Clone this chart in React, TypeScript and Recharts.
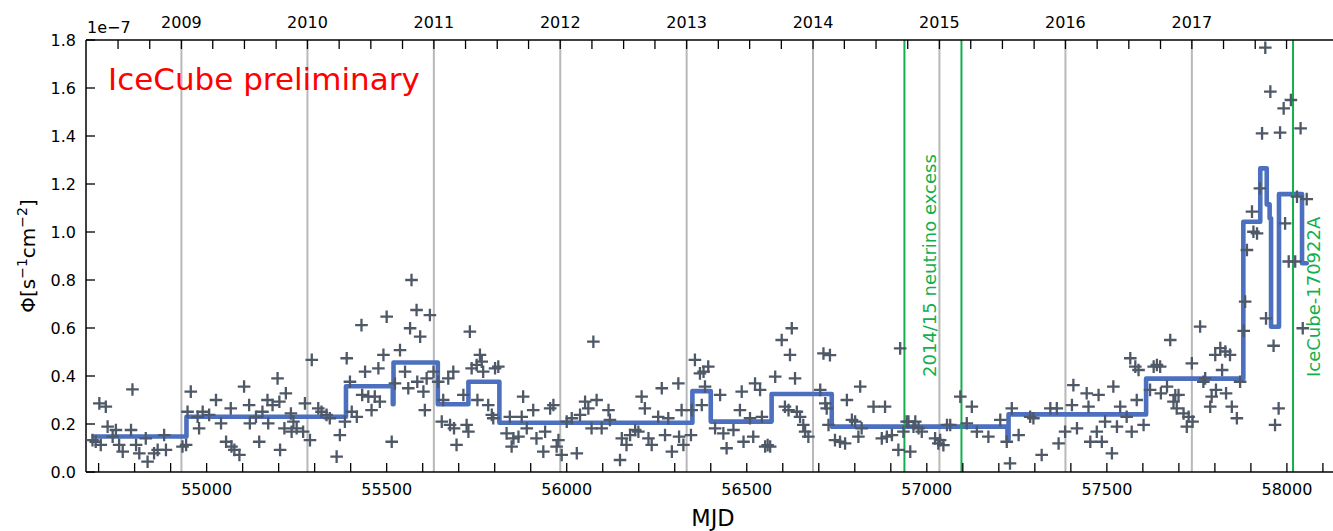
import React from 'react';
import { ComposedChart, Line, Scatter, XAxis, YAxis, ReferenceLine } from 'recharts';

// ---------- data ----------
const scatterMjd = [
  54683, 54692, 54702, 54706, 54720, 54725, 54739, 54748, 54757, 54767, 54790, 54794, 54804, 54813, 54831, 54836, 54854, 54864, 54882, 54887,
  54933, 54943, 54947, 54956, 54975, 54979, 54989, 55007, 55026, 55040, 55054, 55067, 55069, 55077, 55091, 55104, 55118, 55120, 55137, 55146,
  55155, 55169, 55171, 55183, 55197, 55202, 55204, 55216, 55220, 55234, 55236,
  55241, 55250, 55268, 55273, 55287, 55292, 55310, 55319, 55333, 55342, 55361, 55370, 55384, 55389, 55398, 55403, 55417, 55430, 55432, 55440,
  55449, 55458, 55467, 55477, 55481, 55491, 55500, 55514, 55523, 55537, 55551, 55560, 55565, 55569, 55583, 55585, 55593, 55602, 55606, 55611,
  55620, 55630, 55643, 55653, 55657, 55671, 55676, 55685, 55687, 55694, 55713, 55722, 55727, 55731, 55736, 55750, 55752, 55759, 55764, 55768,
  55782, 55792, 55796, 55801,
  55810, 55833, 55842, 55847, 55852, 55866, 55875, 55879, 55889, 55907, 55916, 55935, 55940, 55954, 55963, 55972, 55977, 55986, 56000, 56014,
  56028, 56037, 56051, 56060, 56069, 56074, 56083, 56097, 56116, 56120, 56148, 56153, 56166, 56176, 56190, 56199, 56208, 56217, 56227, 56236,
  56254, 56264, 56273, 56282, 56292, 56310, 56312, 56319, 56324, 56345, 56347, 56356,
  56370, 56375, 56380, 56384, 56393, 56412, 56426, 56435, 56444, 56463, 56481, 56486, 56491, 56509, 56518, 56523, 56537, 56542, 56551, 56558,
  56565, 56579, 56597, 56606, 56616, 56620, 56625, 56634, 56639, 56648, 56657, 56662, 56671, 56704, 56713, 56718, 56722, 56727, 56731, 56745,
  56759, 56773, 56778, 56792, 56801, 56810, 56815, 56819, 56852, 56875, 56884, 56889, 56903, 56921, 56926, 56935, 56944,
  56949, 56954, 56963, 56968, 56977, 56986, 57023, 57032, 57037, 57046, 57056, 57065, 57093, 57111, 57125, 57139, 57171, 57204, 57222, 57231,
  57236, 57255, 57287, 57296, 57319, 57343, 57361, 57366, 57384, 57403, 57407, 57417, 57444, 57449, 57454, 57472, 57477, 57486, 57495, 57514,
  57518, 57528, 57537,
  57555, 57565, 57569, 57579, 57583, 57588, 57602, 57620, 57630, 57639, 57648, 57650, 57667, 57676, 57685, 57690, 57694, 57699, 57713, 57722,
  57727, 57736, 57738, 57759, 57768, 57773, 57787, 57791, 57801, 57803, 57815, 57820, 57829, 57831, 57842, 57847, 57861, 57870,
  57880, 57884, 57889, 57903, 57907, 57917, 57925, 57931, 57940, 57942, 57954, 57963, 57967, 57977, 57981, 57991, 57995, 58005, 58011, 58023,
  58028, 58038, 58044, 58055,
];
const scatterFlux = [
  0.133, 0.126, 0.286, 0.113, 0.272, 0.189, 0.147, 0.175, 0.113, 0.085, 0.175, 0.344, 0.113, 0.078, 0.140, 0.043, 0.078, 0.092, 0.154, 0.092,
  0.106, 0.113, 0.251, 0.335, 0.230, 0.182, 0.251, 0.238, 0.300, 0.203, 0.126, 0.265, 0.106, 0.092, 0.071, 0.356, 0.279, 0.203, 0.230, 0.126,
  0.251, 0.300, 0.203, 0.279, 0.390, 0.293, 0.092, 0.182, 0.328, 0.244, 0.168,
  0.210, 0.182, 0.168, 0.286, 0.133, 0.467, 0.265, 0.251, 0.238, 0.224, 0.064, 0.154, 0.210, 0.474, 0.376, 0.251, 0.230, 0.612, 0.321, 0.418,
  0.314, 0.258, 0.314, 0.432, 0.293, 0.488, 0.647, 0.126, 0.369, 0.508, 0.418, 0.349, 0.599, 0.800, 0.675, 0.376, 0.564, 0.335, 0.258, 0.390,
  0.654, 0.418, 0.376, 0.210, 0.300, 0.390, 0.196, 0.418, 0.182, 0.113, 0.321, 0.196, 0.168, 0.585, 0.432, 0.446, 0.300, 0.488, 0.460, 0.418,
  0.279, 0.238, 0.224, 0.432,
  0.439, 0.161, 0.230, 0.106, 0.140, 0.147, 0.230, 0.314, 0.182, 0.258, 0.140, 0.085, 0.168, 0.265, 0.279, 0.106, 0.133, 0.071, 0.210, 0.224,
  0.078, 0.238, 0.293, 0.265, 0.182, 0.543, 0.300, 0.182, 0.258, 0.217, 0.050, 0.140, 0.113, 0.154, 0.175, 0.168, 0.314, 0.265, 0.140, 0.113,
  0.230, 0.349, 0.154, 0.224, 0.085, 0.369, 0.147, 0.258, 0.113, 0.154, 0.258, 0.467,
  0.411, 0.279, 0.418, 0.356, 0.439, 0.182, 0.321, 0.161, 0.099, 0.175, 0.258, 0.335, 0.126, 0.224, 0.147, 0.369, 0.342, 0.230, 0.106, 0.112,
  0.106, 0.397, 0.550, 0.272, 0.258, 0.488, 0.599, 0.390, 0.251, 0.230, 0.196, 0.168, 0.147, 0.342, 0.494, 0.286, 0.265, 0.196, 0.487, 0.133,
  0.126, 0.119, 0.300, 0.217, 0.210, 0.147, 0.356, 0.182, 0.272, 0.140, 0.272, 0.147, 0.154, 0.092, 0.515, 0.168, 0.210,
  0.210, 0.085, 0.189, 0.210, 0.182, 0.168, 0.140, 0.119, 0.133, 0.112, 0.196, 0.196, 0.314, 0.203, 0.272, 0.168, 0.147, 0.217, 0.126, 0.036,
  0.265, 0.154, 0.230, 0.224, 0.071, 0.265, 0.265, 0.119, 0.168, 0.279, 0.362, 0.182, 0.328, 0.272, 0.126, 0.168, 0.321, 0.126, 0.210, 0.078,
  0.356, 0.189, 0.272,
  0.230, 0.474, 0.168, 0.439, 0.300, 0.425, 0.196, 0.342, 0.439, 0.446, 0.439, 0.328, 0.356, 0.550, 0.293, 0.320, 0.265, 0.321, 0.244, 0.189,
  0.230, 0.453, 0.210, 0.606, 0.376, 0.390, 0.272, 0.314, 0.488, 0.342, 0.516, 0.425, 0.502, 0.328, 0.488, 0.272, 0.224, 0.376,
  0.588, 0.710, 0.925, 1.085, 1.001, 0.994, 1.182, 1.411, 1.768, 0.640, 1.585, 0.526, 0.196, 0.265, 1.414, 1.515, 1.036, 0.877, 1.550, 0.877,
  1.147, 1.432, 0.599, 1.137,
];

const stepMjd = [54686, 54944, 55387, 55517, 55519, 55642, 55727, 55813, 56349, 56400, 56569, 56736, 57224, 57227, 57609, 57879, 57926, 57944, 57952, 57956, 57978, 58042, 58055];
const stepFlux = [0.148, 0.230, 0.357, 0.282, 0.456, 0.282, 0.376, 0.205, 0.337, 0.210, 0.325, 0.189, 0.135, 0.240, 0.389, 1.043, 1.265, 1.115, 1.057, 0.605, 1.158, 0.870, 0.870];

const yearLabels = ['2009', '2010', '2011', '2012', '2013', '2014', '2015', '2016', '2017'];
const yearMjd = [54930, 55280, 55631, 55982, 56333, 56684, 57035, 57385, 57736];
const topMinorTicks = [54754, 54842, 55017, 55105, 55193, 55368, 55456, 55544, 55719, 55807, 55894, 56070, 56158, 56245, 56421, 56508, 56596, 56771, 56859, 56947, 57122, 57210, 57298, 57473, 57561, 57649, 57824, 57912, 57999];
const bottomTicks = [54700, 54800, 54900, 55000, 55100, 55200, 55300, 55400, 55500, 55600, 55700, 55800, 55900, 56000, 56100, 56200, 56300, 56400, 56500, 56600, 56700, 56800, 56900, 57000, 57100, 57200, 57300, 57400, 57500, 57600, 57700, 57800, 57900, 58000, 58100];
const bottomLabels = [55000, 55500, 56000, 56500, 57000, 57500, 58000];
const yTicks = [0, 0.2, 0.4, 0.6, 0.8, 1.0, 1.2, 1.4, 1.6, 1.8];
const windowLines = [56937.8, 57096.2];
const alertLine = 58017;
const xDomain = [54665, 58128];

// ---------- styling ----------
const FONT = '"DejaVu Sans", sans-serif';
const MARKER = '#4e5866';
const BLUE = '#4c6fbf';
const GREEN = '#12b04c';
const GRAY = '#b8b8b8';

const scatterData = scatterMjd.map((m, i) => ({ mjd: m, flux: scatterFlux[i] }));
const stepData = stepMjd.map((m, i) => ({ mjd: m, flux: stepFlux[i] }));
const topTicks = [...topMinorTicks, ...yearMjd].sort((a, b) => a - b);

const Cross = (props: any) => {
  const { cx, cy } = props;
  if (cx == null || cy == null) return null;
  return (
    <path d={`M${cx - 6.3},${cy}H${cx + 6.3}M${cx},${cy - 6.3}V${cy + 6.3}`} stroke={MARKER} strokeWidth={2.3} fill="none" />
  );
};

const BottomTick = (props: any) => {
  const { x, y, payload } = props;
  const v = payload.value;
  const labeled = bottomLabels.includes(v);
  return (
    <g>
      <line x1={x} y1={y} x2={x} y2={y - 9} stroke="#000" strokeWidth={1.3} />
      {labeled && (
        <text x={x} y={y + 23} textAnchor="middle" fontSize={16} fontFamily={FONT} fill="#000">{v}</text>
      )}
    </g>
  );
};

const TopTick = (props: any) => {
  const { x, y, payload } = props;
  const idx = yearMjd.indexOf(payload.value);
  return (
    <g>
      <line x1={x} y1={y} x2={x} y2={y + 9} stroke="#000" strokeWidth={1.3} />
      {idx >= 0 && (
        <text x={x} y={y - 12} textAnchor="middle" fontSize={16} fontFamily={FONT} fill="#000">{yearLabels[idx]}</text>
      )}
    </g>
  );
};

const LeftTick = (props: any) => {
  const { x, y, payload } = props;
  return (
    <g>
      <line x1={x} y1={y} x2={x + 9} y2={y} stroke="#000" strokeWidth={1.3} />
      <text x={x - 10} y={y + 6} textAnchor="end" fontSize={16} fontFamily={FONT} fill="#000">{Number(payload.value).toFixed(1)}</text>
    </g>
  );
};

export default function App() {
  return (
    <div style={{ position: 'absolute', left: 0, top: 0, width: 1333, height: 531, background: '#fff' }}>
      <ComposedChart width={1333} height={531} margin={{ top: 0, right: 0, bottom: 0, left: 0 }}>
        <XAxis
          xAxisId={0}
          dataKey="mjd"
          type="number"
          domain={xDomain}
          allowDataOverflow
          ticks={bottomTicks}
          interval={0}
          height={59}
          tickSize={0}
          tickMargin={0}
          tickLine={false}
          axisLine={{ stroke: '#000', strokeWidth: 1.5 }}
          tick={<BottomTick />}
        />
        <XAxis
          xAxisId="top"
          orientation="top"
          dataKey="mjd"
          type="number"
          domain={xDomain}
          allowDataOverflow
          ticks={topTicks}
          interval={0}
          height={40}
          tickSize={0}
          tickMargin={0}
          tickLine={false}
          axisLine={{ stroke: '#000', strokeWidth: 1.5 }}
          tick={<TopTick />}
        />
        <YAxis
          type="number"
          domain={[0, 1.8]}
          allowDataOverflow
          ticks={yTicks}
          interval={0}
          width={86}
          tickSize={0}
          tickMargin={0}
          tickLine={false}
          axisLine={{ stroke: '#000', strokeWidth: 1.5 }}
          tick={<LeftTick />}
        />
        {yearMjd.map((m) => (
          <ReferenceLine key={'y' + m} x={m} xAxisId={0} stroke={GRAY} strokeWidth={2} />
        ))}
        <Line
          data={stepData}
          dataKey="flux"
          type="stepAfter"
          stroke={BLUE}
          strokeWidth={4.6}
          strokeLinecap="round"
          strokeLinejoin="round"
          dot={false}
          activeDot={false}
          isAnimationActive={false}
        />
        <Scatter data={scatterData} dataKey="flux" shape={<Cross />} isAnimationActive={false} />
        {windowLines.map((m) => (
          <ReferenceLine key={'w' + m} x={m} xAxisId={0} stroke={GREEN} strokeWidth={2} />
        ))}
        <ReferenceLine x={alertLine} xAxisId={0} stroke={GREEN} strokeWidth={2} />
      </ComposedChart>
      <svg width={1333} height={531} style={{ position: 'absolute', left: 0, top: 0, pointerEvents: 'none' }}>
        <text x={108} y={90} fontSize={31} fontFamily={FONT} fill="#ff0000">IceCube preliminary</text>
        <text x={87} y={33} fontSize={16} fontFamily={FONT} fill="#000">1e−7</text>
        <text x={713} y={526} textAnchor="middle" fontSize={22.5} fontFamily={FONT} fill="#000">MJD</text>
        <text x={936} y={377} transform="rotate(-90 936 377)" fontSize={18} fontFamily={FONT} fill={GREEN}>2014/15 neutrino excess</text>
        <text x={1320} y={377} transform="rotate(-90 1320 377)" fontSize={18} fontFamily={FONT} fill={GREEN}>IceCube-170922A</text>
        <text x={35} y={256} transform="rotate(-90 35 256)" textAnchor="middle" fontSize={20} fontFamily={FONT} fill="#000">
          Φ[s<tspan dy={-8} fontSize={14}>−1</tspan><tspan dy={8}>cm</tspan><tspan dy={-8} fontSize={14}>−2</tspan><tspan dy={8}>]</tspan>
        </text>
      </svg>
    </div>
  );
}
